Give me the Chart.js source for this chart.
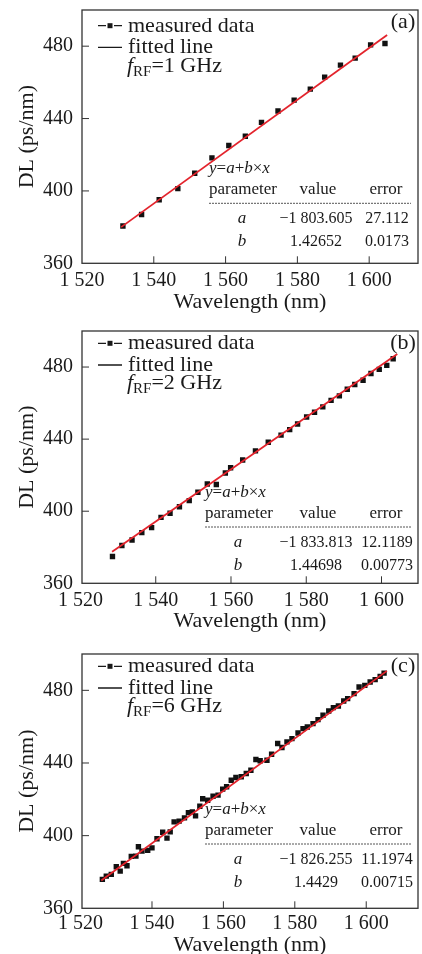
<!DOCTYPE html>
<html>
<head>
<meta charset="utf-8">
<script src="https://cdn.jsdelivr.net/npm/chart.js@4.4.1/dist/chart.umd.min.js"></script>
<style>
  body { margin: 0; background: #fff; }
  canvas { position: absolute; left: 0; }
</style>
</head>
<body>
<canvas id="chartA" width="422" height="320" style="top:0px"></canvas>
<canvas id="chartB" width="422" height="320" style="top:320px"></canvas>
<canvas id="chartC" width="422" height="320" style="top:640px"></canvas>
<script>
// ===== Data =====
let xTickValues = [1520, 1540, 1560, 1580, 1600];
let yTickValues = [360, 400, 440, 480];
let paramNames = ["a", "b"];
let tableHeader = ["parameter", "value", "error"];

// (a) fRF = 1 GHz
let wavelengthA = [1531.4, 1536.6, 1541.5, 1546.7, 1551.4, 1556.2, 1560.9, 1565.5, 1570.0,
  1574.6, 1579.1, 1583.6, 1587.6, 1592.0, 1596.1, 1600.4, 1604.4];
let dlA = [380.6, 387.0, 395.1, 401.3, 409.8, 418.3, 425.1, 430.2, 437.9,
  444.2, 450.2, 456.3, 462.9, 469.5, 473.4, 480.7, 481.5];
let fitXA = [1530.9, 1605.0];
let fitYA = [380.0, 486.2];
let valuesA = ["\u22121 803.605", "1.42652"];
let errorsA = ["27.112", "0.0173"];

// (b) fRF = 2 GHz
let wavelengthB = [1528.5, 1531.0, 1533.7, 1536.3, 1538.9, 1541.4, 1543.8, 1546.3, 1548.9,
  1551.2, 1553.7, 1556.1, 1558.5, 1559.9, 1563.1, 1566.5, 1569.9, 1573.3, 1575.6, 1577.7,
  1580.1, 1582.2, 1584.4, 1586.6, 1588.8, 1590.9, 1592.9, 1595.1, 1597.2, 1599.4, 1601.4, 1603.1];
let dlB = [374.9, 381.0, 384.0, 388.1, 390.9, 396.6, 398.9, 402.5, 405.9,
  410.5, 415.1, 414.8, 421.2, 424.1, 428.4, 433.5, 438.3, 442.2, 445.3, 448.4,
  452.3, 454.9, 457.9, 461.5, 464.0, 467.7, 470.3, 472.7, 476.4, 478.7, 480.9, 484.6];
let fitXB = [1528.4, 1604.2];
let fitYB = [377.5, 487.3];
let valuesB = ["\u22121 833.813", "1.44698"];
let errorsB = ["12.1189", "0.00773"];

// (c) fRF = 6 GHz
let wavelengthC = [1526.1, 1527.2, 1528.6, 1530.0, 1531.1, 1532.0, 1533.0, 1534.2, 1535.5, 1536.2,
  1537.2, 1538.8, 1540.0, 1541.4, 1543.0, 1544.2, 1545.1, 1546.2, 1547.6, 1549.1,
  1550.2, 1551.3, 1552.2, 1553.4, 1554.2, 1555.6, 1557.1, 1558.5, 1559.8, 1560.9,
  1562.2, 1563.5, 1565.0, 1566.4, 1567.7, 1569.1, 1570.3, 1572.2, 1573.5, 1575.2,
  1576.4, 1577.8, 1579.2, 1580.9, 1582.3, 1583.5, 1585.1, 1586.5, 1587.9, 1589.5,
  1590.8, 1592.2, 1593.7, 1594.8, 1596.6, 1598.0, 1599.6, 1601.1, 1602.5, 1603.9, 1605.0];
let dlC = [375.9, 377.7, 378.7, 382.9, 380.5, 384.7, 383.4, 388.6, 388.7, 393.9,
  391.5, 391.9, 393.3, 398.3, 401.9, 398.6, 402.1, 407.6, 408.0, 409.8,
  412.7, 413.1, 410.9, 416.2, 420.3, 419.5, 421.7, 422.3, 425.6, 426.9,
  430.5, 432.0, 432.4, 434.2, 436.0, 441.9, 441.2, 441.5, 444.8, 450.7,
  448.5, 451.6, 453.4, 456.5, 458.9, 459.8, 461.7, 463.9, 466.3, 468.6,
  470.5, 471.4, 474.1, 475.4, 478.2, 481.8, 482.7, 484.6, 485.9, 487.7, 489.5];
let fitXC = [1525.8, 1605.8];
let fitYC = [375.3, 490.7];
let valuesC = ["\u22121 826.255", "1.4429"];
let errorsC = ["11.1974", "0.00715"];

// ===== Styles =====
let SERIF = "'Liberation Serif', 'Times New Roman', serif";
let INK = "#1a1a1a";
let RED = "#e3232c";

function formatNm(v) {
  let s = String(Math.round(v));
  return s.length > 3 ? s.slice(0, s.length - 3) + " " + s.slice(-3) : s;
}

function toPoints(xs, ys) {
  return xs.map((x, i) => ({ x: x, y: ys[i] }));
}

// draws text pieces one after another, returns end x
function drawRuns(ctx, runs, x, y) {
  runs.forEach(r => {
    ctx.font = r.font;
    ctx.fillText(r.text, x, y + (r.dy || 0));
    x += ctx.measureText(r.text).width;
  });
  return x;
}

// ===== Frame, ticks, legend, fit table =====
let decorPlugin = {
  id: "decor",
  afterDraw(chart, args, o) {
    let ctx = chart.ctx;
    let a = chart.chartArea;
    let sx = chart.scales.x, sy = chart.scales.y;
    ctx.save();

    // box
    ctx.strokeStyle = "#333";
    ctx.lineWidth = 1.3;
    ctx.strokeRect(a.left, a.top, a.right - a.left, a.bottom - a.top);

    // inward ticks
    ctx.lineWidth = 1;
    ctx.beginPath();
    xTickValues.forEach(v => {
      let px = sx.getPixelForValue(v);
      if (px > a.left + 2 && px < a.right - 2) {
        ctx.moveTo(px, a.bottom);
        ctx.lineTo(px, a.bottom - 7);
      }
    });
    yTickValues.forEach(v => {
      let py = sy.getPixelForValue(v);
      if (py > a.top + 2 && py < a.bottom - 2) {
        ctx.moveTo(a.left, py);
        ctx.lineTo(a.left + 7, py);
      }
    });
    ctx.stroke();

    ctx.fillStyle = INK;
    ctx.textBaseline = "alphabetic";
    ctx.textAlign = "left";

    // legend
    let lx = a.left + 16;
    let y1 = a.top + o.legendY;
    let y2 = y1 + 21.7;
    let y3 = y1 + 40;
    ctx.strokeStyle = INK;
    ctx.lineWidth = 1.3;
    ctx.beginPath();
    ctx.moveTo(lx, y1 - 6); ctx.lineTo(lx + 8, y1 - 6);
    ctx.moveTo(lx + 16, y1 - 6); ctx.lineTo(lx + 24, y1 - 6);
    ctx.moveTo(lx, y2 - 6); ctx.lineTo(lx + 24, y2 - 6);
    ctx.stroke();
    ctx.fillRect(lx + 9.5, y1 - 8.5, 5, 5);

    ctx.font = "22px " + SERIF;
    ctx.fillText("measured data", a.left + 46, y1);
    ctx.fillText("fitted line", a.left + 46, y2);
    drawRuns(ctx, [
      { text: "f", font: "italic 22px " + SERIF },
      { text: "RF", font: "15px " + SERIF, dy: 4 },
      { text: "=" + o.freq, font: "22px " + SERIF }
    ], a.left + 45, y3);

    // panel label
    ctx.font = "22px " + SERIF;
    ctx.textAlign = "center";
    ctx.fillText(o.label, 403, a.top + 18);

    // fit table
    let tx = o.tableX;
    let ty = a.top + o.tableY;
    ctx.textAlign = "left";
    drawRuns(ctx, [
      { text: "y", font: "italic 17px " + SERIF },
      { text: "=", font: "17px " + SERIF },
      { text: "a", font: "italic 17px " + SERIF },
      { text: "+", font: "17px " + SERIF },
      { text: "b", font: "italic 17px " + SERIF },
      { text: "\u00d7", font: "17px " + SERIF },
      { text: "x", font: "italic 17px " + SERIF }
    ], tx, ty);

    ctx.font = "17px " + SERIF;
    ctx.fillText(tableHeader[0], tx, ty + 21);
    ctx.textAlign = "center";
    ctx.fillText(tableHeader[1], 318, ty + 21);
    ctx.fillText(tableHeader[2], 386, ty + 21);

    ctx.strokeStyle = "#555";
    ctx.lineWidth = 1;
    ctx.setLineDash([2, 1]);
    ctx.beginPath();
    ctx.moveTo(tx, ty + 30);
    ctx.lineTo(411, ty + 30);
    ctx.stroke();
    ctx.setLineDash([]);

    [49.5, 72.5].forEach((dy, i) => {
      ctx.font = "italic 17px " + SERIF;
      ctx.fillText(paramNames[i], tx + 33, ty + dy);
      ctx.font = "16px " + SERIF;
      ctx.fillText(o.values[i], 316, ty + dy);
      ctx.fillText(o.errors[i], 387, ty + dy);
    });

    ctx.restore();
  }
};

// ===== Chart factory =====
function makePanel(id, pts, fit, range, layout, decor) {
  let ctx = document.getElementById(id).getContext("2d");
  return new Chart(ctx, {
    type: "scatter",
    data: {
      datasets: [
        {
          type: "line",
          label: "fitted line",
          data: fit,
          borderColor: RED,
          borderWidth: 1.8,
          pointRadius: 0,
          fill: false
        },
        {
          label: "measured data",
          data: pts,
          pointStyle: "rect",
          pointRadius: 3.8,
          backgroundColor: "#111",
          borderWidth: 0
        }
      ]
    },
    options: {
      responsive: false,
      devicePixelRatio: 1,
      animation: false,
      events: [],
      layout: { padding: { top: layout.top, right: 1, left: 0, bottom: 0 } },
      plugins: {
        legend: { display: false },
        tooltip: { enabled: false },
        decor: decor
      },
      scales: {
        x: {
          type: "linear",
          min: range[0],
          max: range[1],
          afterBuildTicks: s => { s.ticks = xTickValues.map(v => ({ value: v })); },
          afterFit: s => {
            s.height = layout.xHeight;
            s.paddingLeft = 0;
            s.paddingRight = 0;
          },
          grid: { display: false, drawTicks: false },
          border: { display: false },
          ticks: {
            color: INK,
            padding: layout.xPad,
            maxRotation: 0,
            autoSkip: false,
            font: { family: SERIF, size: 20 },
            callback: v => formatNm(v)
          },
          title: {
            display: true,
            text: "Wavelength (nm)",
            color: INK,
            font: { family: SERIF, size: 22 },
            padding: { top: 0, bottom: layout.titlePad }
          }
        },
        y: {
          min: 360,
          max: 500,
          afterBuildTicks: s => { s.ticks = yTickValues.map(v => ({ value: v })); },
          afterFit: s => {
            s.width = 82;
            s.paddingTop = 0;
            s.paddingBottom = 0;
          },
          grid: { display: false, drawTicks: false },
          border: { display: false },
          ticks: {
            color: INK,
            padding: 9,
            font: { family: SERIF, size: 20 }
          },
          title: {
            display: true,
            text: "DL (ps/nm)",
            color: INK,
            font: { family: SERIF, size: 22 },
            padding: { top: 13.8, bottom: 0 }
          }
        }
      }
    },
    plugins: [decorPlugin]
  });
}

// ===== Init =====
makePanel("chartA", toPoints(wavelengthA, dlA), toPoints(fitXA, fitYA), [1520, 1613.6],
  { top: 10, xHeight: 56.7, xPad: 5, titlePad: 4.8 },
  { label: "(a)", freq: "1 GHz", values: valuesA, errors: errorsA, legendY: 21.7, tableY: 163.3, tableX: 209 });

makePanel("chartB", toPoints(wavelengthB, dlB), toPoints(fitXB, fitYB), [1520.4, 1609.7],
  { top: 11, xHeight: 56.7, xPad: 5, titlePad: 5.1 },
  { label: "(b)", freq: "2 GHz", values: valuesB, errors: errorsB, legendY: 18.3, tableY: 166, tableX: 205 });

makePanel("chartC", toPoints(wavelengthC, dlC), toPoints(fitXC, fitYC), [1520.4, 1614.5],
  { top: 14, xHeight: 51.7, xPad: 3, titlePad: 1.8 },
  { label: "(c)", freq: "6 GHz", values: valuesC, errors: errorsC, legendY: 18.3, tableY: 160, tableX: 205 });
</script>
</body>
</html>
